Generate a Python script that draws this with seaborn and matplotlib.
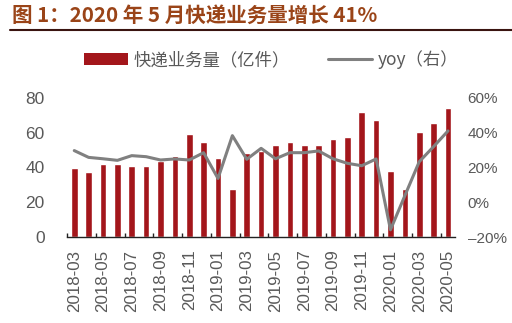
import numpy as np
import pandas as pd
import matplotlib
matplotlib.use("Agg")
import matplotlib.pyplot as plt
from matplotlib.patches import Patch
from matplotlib.lines import Line2D
from matplotlib.ticker import FixedLocator, FuncFormatter
import seaborn as sns

# Monthly express delivery volume (100 million parcels) and year-on-year growth (%)
months = ["2018-03", "2018-04", "2018-05", "2018-06", "2018-07", "2018-08", "2018-09",
          "2018-10", "2018-11", "2018-12", "2019-01", "2019-02", "2019-03", "2019-04",
          "2019-05", "2019-06", "2019-07", "2019-08", "2019-09", "2019-10", "2019-11",
          "2019-12", "2020-01", "2020-02", "2020-03", "2020-04", "2020-05"]
volume = [39.5, 37.6, 42.0, 42.0, 41.0, 41.0, 43.9, 46.6, 59.4, 54.7, 45.7, 27.9, 48.6,
          49.7, 53.0, 54.7, 53.0, 53.0, 56.5, 57.4, 71.9, 67.2, 37.8, 27.9, 60.1, 65.5, 74.2]
yoy = [29.7, 25.8, 25.0, 24.1, 26.8, 26.2, 24.3, 24.9, 24.3, 28.5, 13.7, 38.3, 24.7,
       31.0, 25.0, 28.5, 28.5, 29.5, 25.0, 22.4, 21.0, 24.9, -15.8, 3.8, 23.3, 32.0, 41.0]

title = "图 1：2020 年 5 月快递业务量增长 41%"
bar_label = "快递业务量（亿件）"
line_label = "yoy（右）"

BAR = "#A3161B"
LINE = "#808080"
TICK = "#595959"
TITLE = "#9A4418"

sns.set_theme(style="white")
plt.rcParams["font.family"] = ["Liberation Sans", "Noto Sans CJK SC"]

df = pd.DataFrame({"month": months, "volume": volume, "yoy": yoy,
                   "pos": np.arange(len(months))})

fig = plt.figure(figsize=(5.12, 3.23), dpi=100)
ax = fig.add_axes([0.131, 0.266, 0.758, 0.431])

sns.barplot(data=df, x="month", y="volume", color=BAR, width=0.46,
            saturation=1, ax=ax)
ax.set_xlim(-0.5, len(months) - 0.5)
ax.set_ylim(0, 80)
ax.set_yticks([0, 20, 40, 60, 80])
ax.set_xlabel("")
ax.set_ylabel("")

ax2 = ax.twinx()
sns.lineplot(data=df, x="pos", y="yoy", color=LINE, linewidth=2.2, ax=ax2)
ax2.set_ylim(-20, 60)
ax2.set_yticks([-20, 0, 20, 40, 60])
ax2.yaxis.set_major_formatter(FuncFormatter(lambda v, p: f"{v:.0f}%".replace("-", "\u2013")))
ax2.set_xlabel("")
ax2.set_ylabel("")
ax2.set_xlim(-0.5, len(months) - 0.5)

# x labels every other month
ax.set_xticks(np.arange(0, len(months), 2))
ax.set_xticklabels([months[i] for i in range(0, len(months), 2)], rotation=90)
ax.xaxis.set_minor_locator(FixedLocator(np.arange(-0.5, len(months), 2)))
ax.tick_params(axis="x", which="major", length=0, pad=9, labelsize=12.2, labelcolor=TICK)
ax.tick_params(axis="x", which="minor", length=3, direction="in", color="#222222",
               bottom=True, width=1)
ax.tick_params(axis="y", length=0, pad=16, labelsize=12.5, labelcolor=TICK)
ax2.tick_params(axis="y", length=0, pad=9, labelsize=11, labelcolor=TICK)

for a in (ax, ax2):
    for s in ("left", "right", "top"):
        a.spines[s].set_visible(False)
    a.grid(False)
ax2.spines["bottom"].set_visible(False)
ax.spines["bottom"].set_color("#222222")
ax.spines["bottom"].set_linewidth(1.0)

# legend across the top
handles = [Patch(facecolor=BAR, edgecolor="none", label=bar_label),
           Line2D([0], [0], color=LINE, linewidth=2.2, label=line_label)]
fig.legend(handles=handles, loc="center", bbox_to_anchor=(0.53, 1 - 60 / 323),
           ncol=2, frameon=False, handlelength=2.5, handleheight=0.7,
           handletextpad=0.35, columnspacing=2.2, labelcolor=TICK,
           prop={"family": ["Noto Sans CJK SC"], "size": 12.5, "weight": "light"})

# title and rule beneath it
fig.text(12 / 512, 1 - 15 / 323, title, ha="left", va="center", fontsize=14.8,
         fontweight="bold", color=TITLE, family=["Noto Sans CJK SC", "DejaVu Sans"])
fig.add_artist(Line2D([10 / 512, 1.0], [1 - 29.5 / 323, 1 - 29.5 / 323],
                      transform=fig.transFigure, color="#3A1410", linewidth=1.5))

fig.savefig("out.png", dpi=100)
